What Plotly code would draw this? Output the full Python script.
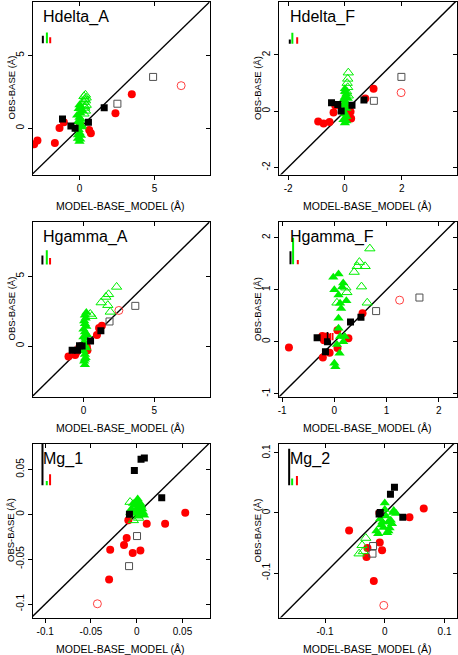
import plotly.graph_objects as go

# ---------------- data ----------------
# Hdelta_A
HDA_RED_X = [-3.02, -2.8, -1.64, -1.33, -1.04, 0.05, 0.65, 0.76, 2.4, 3.49, -0.1]
HDA_RED_Y = [-1.10, -0.83, -1.01, 0.02, 0.41, 0.25, -0.12, -0.34, 1.03, 2.34, 0.0]
HDA_REDO_X = [6.78]
HDA_REDO_Y = [2.93]
HDA_BLK_X = [-1.13, -0.57, -0.29, 0.6, 1.65]
HDA_BLK_Y = [0.64, 0.16, 0.0, 0.41, 1.42]
HDA_BLKO_X = [2.53, 4.91]
HDA_BLKO_Y = [1.69, 3.53]
HDA_GRN_X = [0.0, -0.1, 0.1, 0.0, -0.05, 0.15, 0.05, -0.1, 0.1, 0.0, -0.15, 0.05, 0.2, -0.05, 0.1, 0.0, 0.15, -0.1, 0.05, 0.0]
HDA_GRN_Y = [-0.9, -0.7, -0.5, -0.3, -0.1, 0.1, 0.3, 0.45, 0.6, 0.75, 0.9, 1.05, 1.2, 1.35, 1.5, 1.6, 0.2, -0.45, -0.75, 0.5]
HDA_GRNO_X = [0.3, 0.4, 0.35, 0.45, 0.3, 0.4, 0.35, 0.45, 0.3, 0.4, 0.35]
HDA_GRNO_Y = [1.0, 1.2, 1.4, 1.6, 1.8, 1.9, 2.0, 2.1, 2.2, 2.3, 1.5]
HDA_ERR_X = [-2.44, -2.17, -1.95]
HDA_ERR_BASE = 5.85
HDA_ERR_TOP = [6.35, 6.58, 6.26]

# Hdelta_F
HDF_RED_X = [-0.94, -0.75, -0.54, -0.4, -0.34, 0.16, 0.2, 0.22, 0.72, 1.01]
HDF_RED_Y = [-0.37, -0.44, -0.38, -0.05, 0.2, 0.15, -0.02, -0.26, 0.45, 0.8]
HDF_REDO_X = [1.98]
HDF_REDO_Y = [0.66]
HDF_BLK_X = [-0.47, -0.25, -0.13, 0.25, 0.67]
HDF_BLK_Y = [0.3, 0.24, 0.01, 0.21, 0.4]
HDF_BLKO_X = [1.02, 1.99]
HDF_BLKO_Y = [0.37, 1.22]
HDF_GRN_X = [0.0, -0.05, 0.05, 0.0, -0.05, 0.05, 0.0, 0.05, -0.05, 0.0, 0.05, 0.0, -0.05, 0.1, 0.0, 0.05]
HDF_GRN_Y = [-0.42, -0.3, -0.2, -0.1, 0.0, 0.1, 0.2, 0.3, 0.4, 0.5, 0.6, 0.7, 0.25, 0.45, 0.8, -0.35]
HDF_GRNO_X = [0.12, 0.1, 0.08, 0.1, 0.06, 0.12]
HDF_GRNO_Y = [1.37, 1.15, 1.0, 0.85, 0.7, 0.55]
HDF_ERR_X = [-1.94, -1.85, -1.68]
HDF_ERR_BASE = 2.4
HDF_ERR_TOP = [2.55, 2.79, 2.63]

# Hgamma_A
HGA_RED_X = [-1.06, -0.59, -0.52, 0.24, 0.28, 0.95, 1.1, 1.3, -0.3]
HGA_RED_Y = [-0.76, -0.64, -0.48, -0.05, -0.3, 0.79, 1.3, 1.45, -0.1]
HGA_REDO_X = [2.5]
HGA_REDO_Y = [2.55]
HGA_BLK_X = [-0.8, -0.42, -0.28, -0.1, 0.5, 1.23]
HGA_BLK_Y = [-0.31, -0.31, 0.02, 0.0, 0.36, 1.1]
HGA_BLKO_X = [1.84, 3.66]
HGA_BLKO_Y = [1.76, 2.88]
HGA_GRN_X = [0.1, 0.05, 0.15, 0.1, 0.0, 0.2, 0.1, 0.05, 0.15, 0.25, 0.1, 0.0, 0.2, 0.1, 0.05, 0.15, 0.1, 0.2, 0.0, 0.1]
HGA_GRN_Y = [-1.35, -1.1, -0.85, -0.6, -0.35, -0.15, 0.05, 0.3, 0.55, 0.8, 1.0, 1.2, 1.4, 1.6, 1.8, 2.0, 2.2, 2.4, 0.65, -0.95]
HGA_GRNO_X = [2.34, 1.77, 1.58, 1.25, 1.72, 1.89, 0.59, 0.48]
HGA_GRNO_Y = [4.24, 3.71, 3.52, 3.12, 2.93, 2.45, 2.14, 2.3]
HGA_ERR_X = [-2.9, -2.59, -2.36]
HGA_ERR_BASE = 5.84
HGA_ERR_TOP = [6.5, 6.86, 6.31]

# Hgamma_F
HGF_RED_X = [-0.87, -0.23, -0.2, -0.22, -0.09, 0.06, 0.27, 0.54, 0.06, -0.15]
HGF_RED_Y = [-0.11, 0.11, 0.03, -0.3, -0.21, -0.12, 0.07, 0.55, 0.22, 0.1]
HGF_REDO_X = [1.25]
HGF_REDO_Y = [0.8]
HGF_BLK_X = [-0.33, -0.13, -0.17, 0.31, 0.51]
HGF_BLK_Y = [0.08, 0.0, -0.19, 0.38, 0.47]
HGF_BLKO_X = [0.8, 1.63]
HGF_BLKO_Y = [0.59, 0.85]
HGF_GRN_X = [0.08, -0.02, 0.17, 0.0, 0.08, 0.11, 0.23, 0.13, 0.08, 0.08, 0.11, 0.17, 0.1, 0.02, 0.0, 0.15, 0.2, 0.05]
HGF_GRN_Y = [1.3, 1.24, 1.13, 1.0, 0.9, 0.74, 0.79, 0.64, 0.45, 0.26, 0.1, 0.0, -0.22, -0.48, -0.41, 1.05, 0.1, -0.05]
HGF_GRNO_X = [0.68, 0.48, 0.44, 0.59, 0.38, 0.52, 0.22, 0.24, 0.05, 0.63]
HGF_GRNO_Y = [1.79, 1.53, 1.45, 1.45, 1.34, 1.06, 1.04, 0.95, 0.75, 0.75]
HGF_ERR_X = [-0.84, -0.79, -0.70]
HGF_ERR_BASE = 1.49
HGF_ERR_TOP = [1.74, 2.0, 1.57]
HGF_SEG_X = [-0.13, -0.07, -0.03]
HGF_SEG_Y0 = [-0.03, 0.03, 0.03]
HGF_SEG_Y1 = [0.19, 0.17, 0.17]

# Mg_1
MG1_RED_X = [0.053, 0.031, 0.0109, -0.0092, -0.011, -0.0139, -0.029, -0.0044, 0.004, -0.0302]
MG1_RED_Y = [0.0019, -0.0104, -0.0104, -0.0067, -0.0264, -0.0342, -0.0394, -0.0432, -0.0402, -0.0725]
MG1_REDO_X = [-0.043]
MG1_REDO_Y = [-0.0997]
MG1_BLK_X = [-0.0026, 0.0047, 0.0083, 0.0273, -0.008]
MG1_BLK_Y = [0.049, 0.0614, 0.0628, 0.0186, 0.0]
MG1_BLKO_X = [0.0003, -0.0084]
MG1_BLKO_Y = [-0.0242, -0.0577]
MG1_GRN_X = [-0.004, 0.0, 0.004, -0.002, 0.002, 0.006, -0.006, 0.0, 0.004, -0.003, 0.002, 0.007, -0.001, 0.001, 0.005, 0.0, 0.008, -0.007]
MG1_GRN_Y = [0.012, 0.014, 0.012, 0.01, 0.008, 0.006, 0.006, 0.004, 0.002, 0.001, -0.002, 0.002, 0.013, 0.017, 0.009, 0.006, -0.001, 0.002]
MG1_GRNO_X = [-0.0073, -0.0037, 0.002]
MG1_GRNO_Y = [0.0137, -0.0067, -0.004]
MG1_ERR_X = [-0.103, -0.0983, -0.0947]
MG1_ERR_BASE = 0.0324
MG1_ERR_TOP = [0.085, 0.0372, 0.0446]

# Mg_2
MG2_RED_X = [0.0652, 0.0413, -0.0597, -0.0084, -0.0045, -0.029, -0.0306, -0.0184, -0.009]
MG2_RED_Y = [0.0073, -0.0072, -0.0293, -0.0493, -0.0622, -0.0583, -0.0733, -0.1133, 0.0]
MG2_REDO_X = [-0.0017]
MG2_REDO_Y = [-0.1538]
MG2_BLK_X = [0.0162, 0.0095, -0.0095, -0.0075, 0.0301]
MG2_BLK_Y = [0.0428, 0.031, -0.0017, 0.001, -0.0072]
MG2_BLKO_X = [-0.0196, -0.0206]
MG2_BLKO_Y = [-0.055, -0.0677]
MG2_GRN_X = [0.0, 0.0139, 0.019, 0.0056, -0.002, -0.011, -0.014, 0.004, 0.01, 0.002, -0.006, 0.008, 0.015, -0.008, 0.0, 0.006, -0.004, 0.012]
MG2_GRN_Y = [0.0167, 0.0007, -0.001, -0.015, -0.024, -0.0344, -0.03, -0.033, -0.012, -0.005, -0.02, -0.025, 0.004, -0.01, 0.006, -0.03, -0.015, -0.018]
MG2_GRNO_X = [-0.0318, -0.038, -0.043, -0.036]
MG2_GRNO_Y = [-0.0417, -0.0538, -0.0677, -0.064]
MG2_ERR_X = [-0.16, -0.155, -0.147]
MG2_ERR_BASE = 0.0462
MG2_ERR_TOP = [0.107, 0.0573, 0.0617]

PANEL_NAMES = ["Hdelta_A", "Hdelta_F", "Hgamma_A", "Hgamma_F", "Mg_1", "Mg_2"]
X_RANGES = [[-3.13, 8.67], [-2.32, 3.93], [-3.6, 8.9], [-1.06, 2.34], [-0.1139, 0.0795], [-0.177, 0.12]]
Y_RANGES = [[-3.17, 8.71], [-2.25, 3.9], [-3.62, 8.93], [-1.05, 2.31], [-0.115, 0.079], [-0.174, 0.1157]]
X_TICKS = [[0, 5], [-2, 0, 2], [0, 5], [-1, 0, 1, 2], [-0.1, -0.05, 0, 0.05], [-0.1, 0, 0.1]]
Y_TICKS = [[0, 5], [-2, 0, 2], [0, 5], [-1, 0, 1, 2], [-0.1, -0.05, 0, 0.05], [-0.1, 0, 0.1]]
X_TITLE = "MODEL-BASE_MODEL (Å)"
Y_TITLE = "OBS-BASE (Å)"

SERIES = [
    dict(red=(HDA_RED_X, HDA_RED_Y), redo=(HDA_REDO_X, HDA_REDO_Y), blk=(HDA_BLK_X, HDA_BLK_Y),
         blko=(HDA_BLKO_X, HDA_BLKO_Y), grn=(HDA_GRN_X, HDA_GRN_Y), grno=(HDA_GRNO_X, HDA_GRNO_Y),
         err=(HDA_ERR_X, HDA_ERR_BASE, HDA_ERR_TOP)),
    dict(red=(HDF_RED_X, HDF_RED_Y), redo=(HDF_REDO_X, HDF_REDO_Y), blk=(HDF_BLK_X, HDF_BLK_Y),
         blko=(HDF_BLKO_X, HDF_BLKO_Y), grn=(HDF_GRN_X, HDF_GRN_Y), grno=(HDF_GRNO_X, HDF_GRNO_Y),
         err=(HDF_ERR_X, HDF_ERR_BASE, HDF_ERR_TOP)),
    dict(red=(HGA_RED_X, HGA_RED_Y), redo=(HGA_REDO_X, HGA_REDO_Y), blk=(HGA_BLK_X, HGA_BLK_Y),
         blko=(HGA_BLKO_X, HGA_BLKO_Y), grn=(HGA_GRN_X, HGA_GRN_Y), grno=(HGA_GRNO_X, HGA_GRNO_Y),
         err=(HGA_ERR_X, HGA_ERR_BASE, HGA_ERR_TOP)),
    dict(red=(HGF_RED_X, HGF_RED_Y), redo=(HGF_REDO_X, HGF_REDO_Y), blk=(HGF_BLK_X, HGF_BLK_Y),
         blko=(HGF_BLKO_X, HGF_BLKO_Y), grn=(HGF_GRN_X, HGF_GRN_Y), grno=(HGF_GRNO_X, HGF_GRNO_Y),
         err=(HGF_ERR_X, HGF_ERR_BASE, HGF_ERR_TOP)),
    dict(red=(MG1_RED_X, MG1_RED_Y), redo=(MG1_REDO_X, MG1_REDO_Y), blk=(MG1_BLK_X, MG1_BLK_Y),
         blko=(MG1_BLKO_X, MG1_BLKO_Y), grn=(MG1_GRN_X, MG1_GRN_Y), grno=(MG1_GRNO_X, MG1_GRNO_Y),
         err=(MG1_ERR_X, MG1_ERR_BASE, MG1_ERR_TOP)),
    dict(red=(MG2_RED_X, MG2_RED_Y), redo=(MG2_REDO_X, MG2_REDO_Y), blk=(MG2_BLK_X, MG2_BLK_Y),
         blko=(MG2_BLKO_X, MG2_BLKO_Y), grn=(MG2_GRN_X, MG2_GRN_Y), grno=(MG2_GRNO_X, MG2_GRNO_Y),
         err=(MG2_ERR_X, MG2_ERR_BASE, MG2_ERR_TOP)),
]

# ---------------- layout ----------------
W, H = 458, 655
BOXES = [(32.5, 1.5, 209.5, 174.5), (279, 1.5, 456.5, 174.5),
         (32.5, 221.5, 209.5, 396.5), (279, 221.5, 456.5, 396.5),
         (32.5, 443.5, 209.5, 617.5), (279, 443.5, 456.5, 617.5)]

RED = "#ff0000"
GREEN = "#00f000"
FONT = "Liberation Sans, Arial, sans-serif"


def fmt(v):
    return f"{v:g}"


fig = go.Figure()
layout = dict(width=W, height=H, margin=dict(l=0, r=0, t=0, b=0),
              plot_bgcolor="white", paper_bgcolor="white", showlegend=False,
              font=dict(family=FONT, color="black"))
annotations = []

for i in range(6):
    n = i + 1
    xa = "x" if n == 1 else f"x{n}"
    ya = "y" if n == 1 else f"y{n}"
    xo = f"x{n + 6}"
    yo = f"y{n + 6}"
    xk = "xaxis" if n == 1 else f"xaxis{n}"
    yk = "yaxis" if n == 1 else f"yaxis{n}"
    l, t, r, b = BOXES[i]
    xdom = [l / W, r / W]
    ydom = [1 - b / H, 1 - t / H]
    xr, yr = X_RANGES[i], Y_RANGES[i]
    s = SERIES[i]

    common = dict(showgrid=False, zeroline=False, tickfont=dict(size=10, family=FONT, color="black"))
    layout[xk] = dict(domain=xdom, range=xr, anchor=ya, tickvals=X_TICKS[i],
                      ticktext=[fmt(v) for v in X_TICKS[i]], ticks="outside", ticklen=4,
                      tickwidth=1, tickcolor="black", showline=True, linecolor="black",
                      linewidth=1, mirror=True, **common)
    layout[yk] = dict(domain=ydom, range=yr, anchor=xa, tickvals=Y_TICKS[i],
                      ticktext=[fmt(v) for v in Y_TICKS[i]], ticks="outside", ticklen=4,
                      tickwidth=1, tickcolor="black", showline=True, linecolor="black",
                      linewidth=1, mirror=True, tickangle=-90, **common)
    layout[f"xaxis{n + 6}"] = dict(overlaying=xa, side="top", anchor=ya, range=xr,
                                   tickvals=X_TICKS[i], ticks="inside", ticklen=4, tickwidth=1,
                                   tickcolor="black", showticklabels=False, showgrid=False,
                                   zeroline=False, showline=False)
    layout[f"yaxis{n + 6}"] = dict(overlaying=ya, side="right", anchor=xa, range=yr,
                                   tickvals=Y_TICKS[i], ticks="inside", ticklen=4, tickwidth=1,
                                   tickcolor="black", showticklabels=False, showgrid=False,
                                   zeroline=False, showline=False)
    fig.add_trace(go.Scatter(x=[], y=[], xaxis=xo, yaxis=ya, hoverinfo="skip"))
    fig.add_trace(go.Scatter(x=[], y=[], xaxis=xa, yaxis=yo, hoverinfo="skip"))

    # diagonal y = x across the axis range
    lo = min(xr[0], yr[0])
    hi = max(xr[1], yr[1])
    fig.add_trace(go.Scatter(x=[lo, hi], y=[lo, hi], mode="lines",
                             line=dict(color="black", width=1.4), xaxis=xa, yaxis=ya,
                             hoverinfo="skip"))

    mk = lambda xy, **m: go.Scatter(x=xy[0], y=xy[1], mode="markers", marker=m,
                                    xaxis=xa, yaxis=ya, hoverinfo="skip")
    fig.add_trace(mk(s["red"], symbol="circle", size=8, color=RED, line=dict(width=0)))
    fig.add_trace(mk(s["grn"], symbol="triangle-up", size=9, color=GREEN, line=dict(width=0)))
    fig.add_trace(mk(s["grno"], symbol="triangle-up-open", size=9, color=GREEN, line=dict(width=1)))
    fig.add_trace(mk(s["blk"], symbol="square", size=7, color="black", line=dict(width=0)))
    fig.add_trace(mk(s["blko"], symbol="square-open", size=7, color="#505050", line=dict(width=1)))
    fig.add_trace(mk(s["redo"], symbol="circle-open", size=8, color="#ff4040", line=dict(width=1)))

    # typical error bars (black, green, red)
    ex, ebase, etop = s["err"]
    for c, xv, tv in zip(["black", GREEN, RED], ex, etop):
        fig.add_trace(go.Scatter(x=[xv, xv], y=[ebase, tv], mode="lines",
                                 line=dict(color=c, width=2), xaxis=xa, yaxis=ya,
                                 hoverinfo="skip"))
    if n == 4:
        for c, xv, y0, y1 in zip(["black", RED, RED], HGF_SEG_X, HGF_SEG_Y0, HGF_SEG_Y1):
            fig.add_trace(go.Scatter(x=[xv, xv], y=[y0, y1], mode="lines",
                                     line=dict(color=c, width=1.5), xaxis=xa, yaxis=ya,
                                     hoverinfo="skip"))

    xd = f"{xa} domain"
    yd = f"{ya} domain"
    annotations.append(dict(text=PANEL_NAMES[i], xref=xd, yref=yd, x=0.05, y=0.975,
                            xanchor="left", yanchor="top", showarrow=False,
                            font=dict(size=16, family=FONT, color="black")))
    annotations.append(dict(text=X_TITLE, xref=xd, yref=yd, x=0.5, y=0, yshift=-31,
                            xanchor="center", yanchor="middle", showarrow=False,
                            font=dict(size=10.5, family=FONT, color="black")))
    annotations.append(dict(text=Y_TITLE, xref=xd, yref=yd, x=0, y=0.5, xshift=-22,
                            xanchor="center", yanchor="middle", textangle=-90, showarrow=False,
                            font=dict(size=9.5, family=FONT, color="black")))

layout["annotations"] = annotations
fig.update_layout(**layout)
fig.write_html("out.html", config={"displayModeBar": False},
               post_script="document.body.style.margin='0';document.body.style.padding='0';document.body.style.overflow='hidden';")
